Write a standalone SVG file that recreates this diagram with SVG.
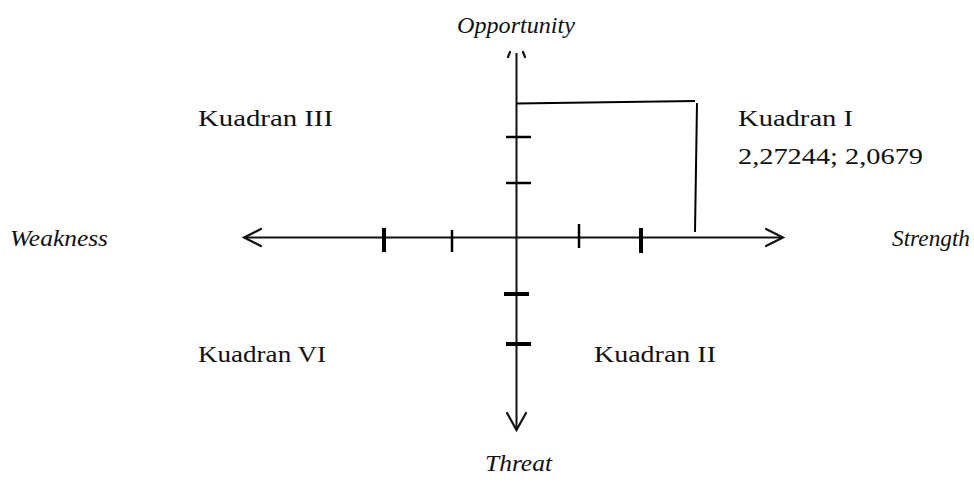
<svg xmlns="http://www.w3.org/2000/svg" width="974" height="484" viewBox="0 0 974 484">
<defs>
<style>
.t{font-family:"Liberation Serif","Times New Roman",serif;font-size:24px;fill:#111}
.i{font-style:italic}
.ax{stroke:#111;stroke-width:2;fill:none}
.ah{stroke:#111;stroke-width:2.2;fill:none;stroke-linecap:round}
.tk{stroke:#000;stroke-width:2.5}
.tkb{stroke:#000;stroke-width:4}
.ln{stroke:#000;stroke-width:2;fill:none}
</style>
</defs>
<rect width="974" height="484" fill="#fff"/>
<g id="connectors">
<line class="ax" x1="245" y1="237.5" x2="782" y2="237.5"/>
<line class="ax" x1="516.5" y1="53" x2="516.5" y2="429"/>
<polyline class="ah" points="261,229 244,237.5 261,246"/>
<polyline class="ah" points="766,229 783,237.5 766,246"/>
<polyline class="ah" points="507,413 516.5,430 526,413"/>
<path class="ah" d="M508,57 L510,52 M525,57 L523,52"/>
<line class="tkb" x1="384" y1="228" x2="384" y2="252"/>
<line class="tk" x1="452" y1="230" x2="452" y2="252"/>
<line class="tk" x1="579" y1="224" x2="579" y2="248"/>
<line class="tkb" x1="641" y1="228" x2="641" y2="253"/>
<line class="tk" x1="506" y1="137" x2="531" y2="137"/>
<line class="tk" x1="506" y1="183" x2="531" y2="183"/>
<line class="tkb" x1="504" y1="294" x2="529" y2="294"/>
<line class="tkb" x1="506" y1="344" x2="531" y2="344"/>
<polyline class="ln" points="517,103.5 695,101"/>
<line class="ln" x1="697" y1="103" x2="695" y2="232"/>
</g>
<g id="opportunity"><text class="t i" x="457" y="33" textLength="118" lengthAdjust="spacingAndGlyphs">Opportunity</text></g>
<g id="threat"><text class="t i" x="485" y="471" textLength="67" lengthAdjust="spacingAndGlyphs">Threat</text></g>
<g id="weakness"><text class="t i" x="10" y="246" textLength="98" lengthAdjust="spacingAndGlyphs">Weakness</text></g>
<g id="strength"><text class="t i" x="892" y="246" textLength="78" lengthAdjust="spacingAndGlyphs">Strength</text></g>
<g id="kuadran3"><text class="t" x="198" y="126" textLength="135" lengthAdjust="spacingAndGlyphs">Kuadran III</text></g>
<g id="kuadran1"><text class="t" x="738" y="126" textLength="115" lengthAdjust="spacingAndGlyphs">Kuadran I</text><text class="t" x="738" y="164" textLength="185" lengthAdjust="spacingAndGlyphs">2,27244; 2,0679</text></g>
<g id="kuadran6"><text class="t" x="198" y="362" textLength="128" lengthAdjust="spacingAndGlyphs">Kuadran VI</text></g>
<g id="kuadran2"><text class="t" x="594" y="362" textLength="122" lengthAdjust="spacingAndGlyphs">Kuadran II</text></g>
</svg>
